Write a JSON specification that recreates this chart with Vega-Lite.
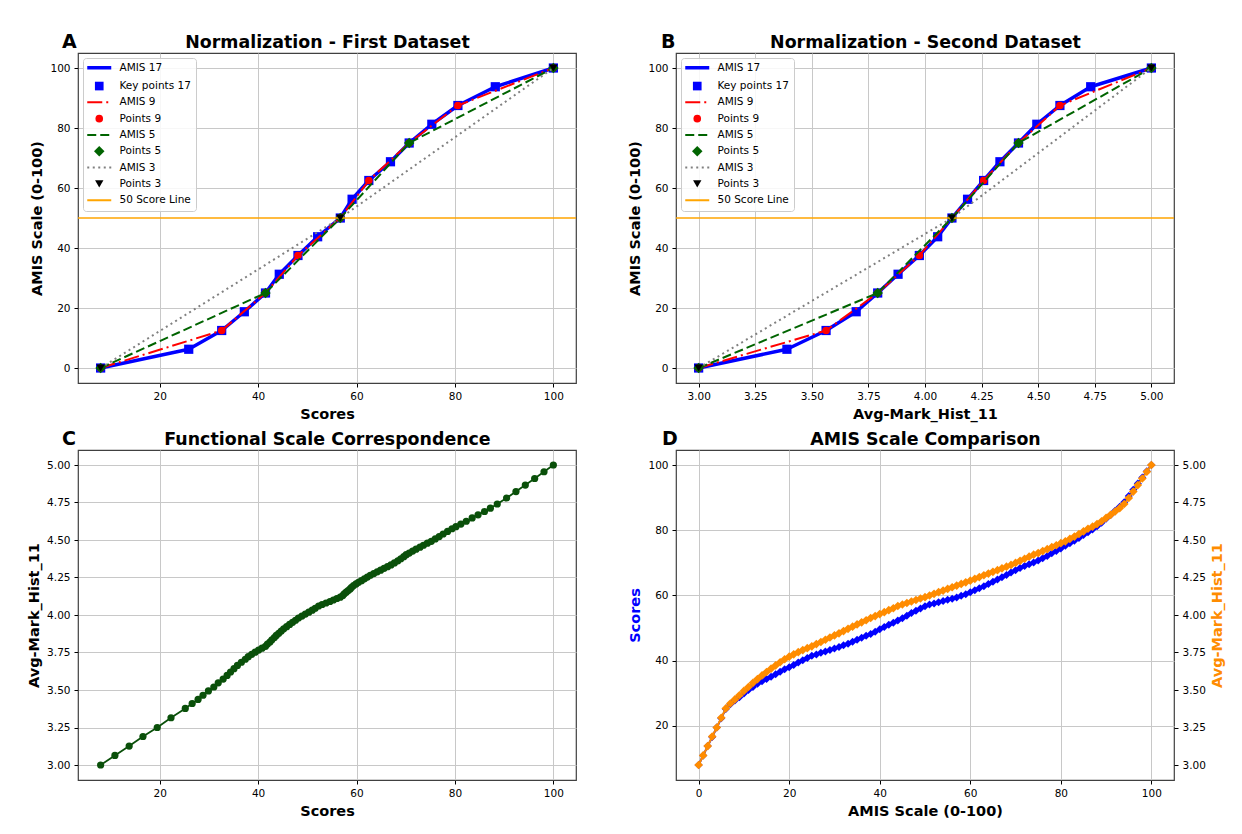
{
  "$schema": "https://vega.github.io/schema/vega-lite/v6.json",
  "background": "white",
  "padding": {"left": 26, "top": 32, "right": 5, "bottom": 5},
  "config": {
    "font": "DejaVu Sans",
    "view": {"stroke": "#404040", "strokeWidth": 1.2},
    "axis": {"domain": false, "tickColor": "#000000", "tickSize": 4, "tickWidth": 1, "labelFontSize": 10.5, "labelColor": "#000000", "labelPadding": 4, "titleFontSize": 14.5, "titleFontWeight": "bold", "titleColor": "#000000", "titlePadding": 5, "gridColor": "#c8c8c8", "gridWidth": 1, "labelOverlap": false, "labelFlush": false},
    "title": {"fontSize": 19, "fontWeight": "bold", "color": "#000000", "anchor": "start", "frame": "group", "offset": -19, "baseline": "alphabetic", "align": "left"}
  },
  "datasets": {
    "ab": [
      {"series": "AMIS 17", "amis": 0, "score": 8.0, "avg": 3.000},
      {"series": "AMIS 17", "amis": 6.25, "score": 25.9, "avg": 3.390},
      {"series": "AMIS 17", "amis": 12.5, "score": 32.6, "avg": 3.563},
      {"series": "AMIS 17", "amis": 18.75, "score": 37.2, "avg": 3.696},
      {"series": "AMIS 17", "amis": 25, "score": 41.5, "avg": 3.791},
      {"series": "AMIS 17", "amis": 31.25, "score": 44.3, "avg": 3.881},
      {"series": "AMIS 17", "amis": 37.5, "score": 48.1, "avg": 3.975},
      {"series": "AMIS 17", "amis": 43.75, "score": 52.1, "avg": 4.056},
      {"series": "AMIS 17", "amis": 50, "score": 56.7, "avg": 4.119},
      {"series": "AMIS 17", "amis": 56.25, "score": 59.1, "avg": 4.188},
      {"series": "AMIS 17", "amis": 62.5, "score": 62.5, "avg": 4.259},
      {"series": "AMIS 17", "amis": 68.75, "score": 66.9, "avg": 4.331},
      {"series": "AMIS 17", "amis": 75, "score": 70.7, "avg": 4.413},
      {"series": "AMIS 17", "amis": 81.25, "score": 75.3, "avg": 4.494},
      {"series": "AMIS 17", "amis": 87.5, "score": 80.6, "avg": 4.596},
      {"series": "AMIS 17", "amis": 93.75, "score": 88.2, "avg": 4.732},
      {"series": "AMIS 17", "amis": 100, "score": 100.0, "avg": 5.000},
      {"series": "Key points 17", "amis": 0, "score": 8.0, "avg": 3.000},
      {"series": "Key points 17", "amis": 6.25, "score": 25.9, "avg": 3.390},
      {"series": "Key points 17", "amis": 12.5, "score": 32.6, "avg": 3.563},
      {"series": "Key points 17", "amis": 18.75, "score": 37.2, "avg": 3.696},
      {"series": "Key points 17", "amis": 25, "score": 41.5, "avg": 3.791},
      {"series": "Key points 17", "amis": 31.25, "score": 44.3, "avg": 3.881},
      {"series": "Key points 17", "amis": 37.5, "score": 48.1, "avg": 3.975},
      {"series": "Key points 17", "amis": 43.75, "score": 52.1, "avg": 4.056},
      {"series": "Key points 17", "amis": 50, "score": 56.7, "avg": 4.119},
      {"series": "Key points 17", "amis": 56.25, "score": 59.1, "avg": 4.188},
      {"series": "Key points 17", "amis": 62.5, "score": 62.5, "avg": 4.259},
      {"series": "Key points 17", "amis": 68.75, "score": 66.9, "avg": 4.331},
      {"series": "Key points 17", "amis": 75, "score": 70.7, "avg": 4.413},
      {"series": "Key points 17", "amis": 81.25, "score": 75.3, "avg": 4.494},
      {"series": "Key points 17", "amis": 87.5, "score": 80.6, "avg": 4.596},
      {"series": "Key points 17", "amis": 93.75, "score": 88.2, "avg": 4.732},
      {"series": "Key points 17", "amis": 100, "score": 100.0, "avg": 5.000},
      {"series": "AMIS 9", "amis": 0, "score": 8.0, "avg": 3.000},
      {"series": "AMIS 9", "amis": 12.5, "score": 32.6, "avg": 3.563},
      {"series": "AMIS 9", "amis": 25, "score": 41.5, "avg": 3.791},
      {"series": "AMIS 9", "amis": 37.5, "score": 48.1, "avg": 3.975},
      {"series": "AMIS 9", "amis": 50, "score": 56.7, "avg": 4.119},
      {"series": "AMIS 9", "amis": 62.5, "score": 62.5, "avg": 4.259},
      {"series": "AMIS 9", "amis": 75, "score": 70.7, "avg": 4.413},
      {"series": "AMIS 9", "amis": 87.5, "score": 80.6, "avg": 4.596},
      {"series": "AMIS 9", "amis": 100, "score": 100.0, "avg": 5.000},
      {"series": "Points 9", "amis": 0, "score": 8.0, "avg": 3.000},
      {"series": "Points 9", "amis": 12.5, "score": 32.6, "avg": 3.563},
      {"series": "Points 9", "amis": 25, "score": 41.5, "avg": 3.791},
      {"series": "Points 9", "amis": 37.5, "score": 48.1, "avg": 3.975},
      {"series": "Points 9", "amis": 50, "score": 56.7, "avg": 4.119},
      {"series": "Points 9", "amis": 62.5, "score": 62.5, "avg": 4.259},
      {"series": "Points 9", "amis": 75, "score": 70.7, "avg": 4.413},
      {"series": "Points 9", "amis": 87.5, "score": 80.6, "avg": 4.596},
      {"series": "Points 9", "amis": 100, "score": 100.0, "avg": 5.000},
      {"series": "AMIS 5", "amis": 0, "score": 8.0, "avg": 3.000},
      {"series": "AMIS 5", "amis": 25, "score": 41.5, "avg": 3.791},
      {"series": "AMIS 5", "amis": 50, "score": 56.7, "avg": 4.119},
      {"series": "AMIS 5", "amis": 75, "score": 70.7, "avg": 4.413},
      {"series": "AMIS 5", "amis": 100, "score": 100.0, "avg": 5.000},
      {"series": "Points 5", "amis": 0, "score": 8.0, "avg": 3.000},
      {"series": "Points 5", "amis": 25, "score": 41.5, "avg": 3.791},
      {"series": "Points 5", "amis": 50, "score": 56.7, "avg": 4.119},
      {"series": "Points 5", "amis": 75, "score": 70.7, "avg": 4.413},
      {"series": "Points 5", "amis": 100, "score": 100.0, "avg": 5.000},
      {"series": "AMIS 3", "amis": 0, "score": 8.0, "avg": 3.000},
      {"series": "AMIS 3", "amis": 50, "score": 56.7, "avg": 4.119},
      {"series": "AMIS 3", "amis": 100, "score": 100.0, "avg": 5.000},
      {"series": "Points 3", "amis": 0, "score": 8.0, "avg": 3.000},
      {"series": "Points 3", "amis": 50, "score": 56.7, "avg": 4.119},
      {"series": "Points 3", "amis": 100, "score": 100.0, "avg": 5.000}
    ],
    "curve": [
      {"amis": 0, "score": 8.0, "avg": 3.000}, {"amis": 1, "score": 10.9, "avg": 3.064}, {"amis": 2, "score": 13.8, "avg": 3.126},
      {"amis": 3, "score": 16.6, "avg": 3.190}, {"amis": 4, "score": 19.5, "avg": 3.250}, {"amis": 5, "score": 22.3, "avg": 3.315},
      {"amis": 6, "score": 25.2, "avg": 3.377}, {"amis": 7, "score": 26.6, "avg": 3.410}, {"amis": 8, "score": 27.8, "avg": 3.437},
      {"amis": 9, "score": 28.8, "avg": 3.465}, {"amis": 10, "score": 29.9, "avg": 3.494}, {"amis": 11, "score": 31.0, "avg": 3.520},
      {"amis": 12, "score": 31.9, "avg": 3.548}, {"amis": 13, "score": 32.9, "avg": 3.573}, {"amis": 14, "score": 33.7, "avg": 3.597},
      {"amis": 15, "score": 34.4, "avg": 3.620}, {"amis": 16, "score": 35.1, "avg": 3.642}, {"amis": 17, "score": 35.8, "avg": 3.664},
      {"amis": 18, "score": 36.6, "avg": 3.685}, {"amis": 19, "score": 37.4, "avg": 3.705}, {"amis": 20, "score": 38.0, "avg": 3.722},
      {"amis": 21, "score": 38.7, "avg": 3.738}, {"amis": 22, "score": 39.4, "avg": 3.752}, {"amis": 23, "score": 40.1, "avg": 3.766},
      {"amis": 24, "score": 40.8, "avg": 3.779}, {"amis": 25, "score": 41.5, "avg": 3.791}, {"amis": 26, "score": 41.9, "avg": 3.806},
      {"amis": 27, "score": 42.4, "avg": 3.820}, {"amis": 28, "score": 42.8, "avg": 3.835}, {"amis": 29, "score": 43.3, "avg": 3.850},
      {"amis": 30, "score": 43.7, "avg": 3.864}, {"amis": 31, "score": 44.2, "avg": 3.878}, {"amis": 32, "score": 44.7, "avg": 3.893},
      {"amis": 33, "score": 45.2, "avg": 3.908}, {"amis": 34, "score": 45.8, "avg": 3.922}, {"amis": 35, "score": 46.4, "avg": 3.937},
      {"amis": 36, "score": 47.0, "avg": 3.951}, {"amis": 37, "score": 47.6, "avg": 3.965}, {"amis": 38, "score": 48.2, "avg": 3.980},
      {"amis": 39, "score": 48.9, "avg": 3.993}, {"amis": 40, "score": 49.6, "avg": 4.006}, {"amis": 41, "score": 50.3, "avg": 4.019},
      {"amis": 42, "score": 51.0, "avg": 4.032}, {"amis": 43, "score": 51.6, "avg": 4.045}, {"amis": 44, "score": 52.3, "avg": 4.060},
      {"amis": 45, "score": 53.0, "avg": 4.070}, {"amis": 46, "score": 53.8, "avg": 4.080}, {"amis": 47, "score": 54.6, "avg": 4.090},
      {"amis": 48, "score": 55.3, "avg": 4.100}, {"amis": 49, "score": 56.0, "avg": 4.110}, {"amis": 50, "score": 56.7, "avg": 4.119},
      {"amis": 51, "score": 57.2, "avg": 4.130}, {"amis": 52, "score": 57.5, "avg": 4.141}, {"amis": 53, "score": 57.9, "avg": 4.152},
      {"amis": 54, "score": 58.3, "avg": 4.163}, {"amis": 55, "score": 58.7, "avg": 4.174}, {"amis": 56, "score": 59.0, "avg": 4.185},
      {"amis": 57, "score": 59.4, "avg": 4.196}, {"amis": 58, "score": 59.9, "avg": 4.207}, {"amis": 59, "score": 60.4, "avg": 4.218},
      {"amis": 60, "score": 61.0, "avg": 4.229}, {"amis": 61, "score": 61.6, "avg": 4.241}, {"amis": 62, "score": 62.2, "avg": 4.253},
      {"amis": 63, "score": 62.8, "avg": 4.265}, {"amis": 64, "score": 63.5, "avg": 4.276}, {"amis": 65, "score": 64.2, "avg": 4.288},
      {"amis": 66, "score": 64.9, "avg": 4.299}, {"amis": 67, "score": 65.6, "avg": 4.311}, {"amis": 68, "score": 66.3, "avg": 4.322},
      {"amis": 69, "score": 67.0, "avg": 4.334}, {"amis": 70, "score": 67.7, "avg": 4.347}, {"amis": 71, "score": 68.4, "avg": 4.361},
      {"amis": 72, "score": 69.0, "avg": 4.375}, {"amis": 73, "score": 69.6, "avg": 4.389}, {"amis": 74, "score": 70.1, "avg": 4.402},
      {"amis": 75, "score": 70.7, "avg": 4.413}, {"amis": 76, "score": 71.4, "avg": 4.426}, {"amis": 77, "score": 72.1, "avg": 4.439},
      {"amis": 78, "score": 72.9, "avg": 4.452}, {"amis": 79, "score": 73.6, "avg": 4.465}, {"amis": 80, "score": 74.4, "avg": 4.479},
      {"amis": 81, "score": 75.2, "avg": 4.491}, {"amis": 82, "score": 76.0, "avg": 4.507}, {"amis": 83, "score": 76.8, "avg": 4.523},
      {"amis": 84, "score": 77.6, "avg": 4.540}, {"amis": 85, "score": 78.5, "avg": 4.557}, {"amis": 86, "score": 79.4, "avg": 4.575},
      {"amis": 87, "score": 80.2, "avg": 4.589}, {"amis": 88, "score": 81.2, "avg": 4.606}, {"amis": 89, "score": 82.3, "avg": 4.625},
      {"amis": 90, "score": 83.5, "avg": 4.647}, {"amis": 91, "score": 84.7, "avg": 4.668}, {"amis": 92, "score": 86.0, "avg": 4.690},
      {"amis": 93, "score": 87.2, "avg": 4.712}, {"amis": 94, "score": 88.6, "avg": 4.740}, {"amis": 95, "score": 90.5, "avg": 4.780},
      {"amis": 96, "score": 92.4, "avg": 4.823}, {"amis": 97, "score": 94.3, "avg": 4.866}, {"amis": 98, "score": 96.2, "avg": 4.910},
      {"amis": 99, "score": 98.1, "avg": 4.955}, {"amis": 100, "score": 100.0, "avg": 5.000}
    ]
  },
  "columns": 2,
  "spacing": {"row": 67, "column": 100},
  "bounds": "flush",
  "resolve": {"scale": {"color": "independent"}, "legend": {"color": "independent"}},
  "concat": [
    {
      "width": 498, "height": 330,
      "title": {"text": "A", "dx": -16},
      "data": {"name": "ab"},
      "resolve": {"axis": {"x": "independent"}},
      "layer": [
        {"layer": [
          {"transform": [{"filter": "datum.series === 'AMIS 17'"}],
           "mark": {"type": "line", "strokeWidth": 3.5, "strokeJoin": "round"},
           "encoding": {
             "x": {"field": "score", "type": "quantitative", "scale": {"domain": [3.4, 104.6], "nice": false, "zero": false}, "axis": {"title": "Scores", "values": [20, 40, 60, 80, 100], "titlePadding": 5.5}},
             "y": {"field": "amis", "type": "quantitative", "scale": {"domain": [-5, 105], "nice": false, "zero": false}, "axis": {"title": "AMIS Scale (0-100)", "values": [0, 20, 40, 60, 80, 100]}},
             "color": {"field": "series", "type": "nominal",
               "scale": {"domain": ["AMIS 17", "Key points 17", "AMIS 9", "Points 9", "AMIS 5", "Points 5", "AMIS 3", "Points 3", "50 Score Line"], "range": ["#0000ff", "#0000ff", "#ff0000", "#ff0000", "#006400", "#006400", "#808080", "#000000", "#ffa500"]},
               "legend": {"title": null, "orient": "top-left", "offset": 5, "padding": 4.5, "rowPadding": 5.3, "labelFontSize": 10.5, "labelColor": "#000000", "labelLimit": 300, "symbolSize": 64, "symbolOffset": 6.5, "labelOffset": 15, "fillColor": "rgba(255,255,255,0.85)", "strokeColor": "#cccccc", "cornerRadius": 3,
                 "encode": {"symbols": {"update": {
                   "shape": {"signal": "datum.value === 'Key points 17' ? 'square' : datum.value === 'Points 9' ? 'circle' : datum.value === 'Points 5' ? 'diamond' : datum.value === 'Points 3' ? 'triangle-down' : 'stroke'"},
                   "size": {"signal": "datum.value === 'Key points 17' ? 75 : datum.value === 'Points 9' ? 58 : datum.value === 'Points 5' ? 110 : datum.value === 'Points 3' ? 70 : 576"},
                   "fill": {"signal": "indexof(['Key points 17','Points 9','Points 5','Points 3'], datum.value) >= 0 ? ((datum.value === 'Key points 17') ? '#0000ff' : (datum.value === 'Points 9') ? '#ff0000' : (datum.value === 'Points 5') ? '#006400' : '#000000') : 'transparent'"},
                   "stroke": {"signal": "(datum.value === 'AMIS 17' || datum.value === 'Key points 17') ? '#0000ff' : (datum.value === 'AMIS 9' || datum.value === 'Points 9') ? '#ff0000' : (datum.value === 'AMIS 5' || datum.value === 'Points 5') ? '#006400' : datum.value === 'AMIS 3' ? '#808080' : datum.value === 'Points 3' ? '#000000' : '#ffa500'"},
                   "strokeWidth": {"signal": "datum.value === 'AMIS 17' ? 3.5 : indexof(['Key points 17','Points 9','Points 5','Points 3'], datum.value) >= 0 ? 0 : 2"},
                   "strokeDash": {"signal": "datum.value === 'AMIS 9' ? [15,4,2,4] : datum.value === 'AMIS 5' ? [9,4] : datum.value === 'AMIS 3' ? [2,3.5] : [1,0]"},
                   "opacity": {"value": 1}
                 }}}}
             }
           }},
          {"transform": [{"filter": "datum.series === 'Key points 17'"}],
           "mark": {"type": "point", "shape": "square", "filled": true, "size": 85, "opacity": 1},
           "encoding": {"x": {"field": "score", "type": "quantitative"}, "y": {"field": "amis", "type": "quantitative"}, "color": {"field": "series", "type": "nominal"}}},
          {"transform": [{"filter": "datum.series === 'AMIS 9'"}],
           "mark": {"type": "line", "strokeWidth": 2, "strokeDash": [15, 4, 2, 4]},
           "encoding": {"x": {"field": "score", "type": "quantitative"}, "y": {"field": "amis", "type": "quantitative"}, "color": {"field": "series", "type": "nominal"}}},
          {"transform": [{"filter": "datum.series === 'Points 9'"}],
           "mark": {"type": "point", "shape": "circle", "filled": true, "size": 58, "opacity": 1},
           "encoding": {"x": {"field": "score", "type": "quantitative"}, "y": {"field": "amis", "type": "quantitative"}, "color": {"field": "series", "type": "nominal"}}},
          {"transform": [{"filter": "datum.series === 'AMIS 5'"}],
           "mark": {"type": "line", "strokeWidth": 2, "strokeDash": [9, 4]},
           "encoding": {"x": {"field": "score", "type": "quantitative"}, "y": {"field": "amis", "type": "quantitative"}, "color": {"field": "series", "type": "nominal"}}},
          {"transform": [{"filter": "datum.series === 'Points 5'"}],
           "mark": {"type": "point", "shape": "diamond", "filled": true, "size": 110, "opacity": 1},
           "encoding": {"x": {"field": "score", "type": "quantitative"}, "y": {"field": "amis", "type": "quantitative"}, "color": {"field": "series", "type": "nominal"}}},
          {"transform": [{"filter": "datum.series === 'AMIS 3'"}],
           "mark": {"type": "line", "strokeWidth": 2, "strokeDash": [2, 3.5]},
           "encoding": {"x": {"field": "score", "type": "quantitative"}, "y": {"field": "amis", "type": "quantitative"}, "color": {"field": "series", "type": "nominal"}}},
          {"data": {"values": [{"series": "50 Score Line", "amis": 50}]},
           "mark": {"type": "rule", "strokeWidth": 1.5},
           "encoding": {"y": {"field": "amis", "type": "quantitative"}, "color": {"field": "series", "type": "nominal"}}}
        ]},
        {"transform": [{"filter": "datum.series === 'Points 3'"}],
         "mark": {"type": "point", "shape": "triangle-down", "filled": true, "size": 70, "opacity": 1},
         "encoding": {
           "x": {"field": "score", "type": "quantitative", "axis": {"orient": "top", "title": "Normalization - First Dataset", "labels": false, "ticks": false, "grid": false, "domain": false, "titleY": -6, "titleFontSize": 17.4, "titleBaseline": "alphabetic", "titlePadding": 0}},
           "y": {"field": "amis", "type": "quantitative"},
           "color": {"field": "series", "type": "nominal"}
         }}
      ]
    },
    {
      "width": 498, "height": 330,
      "title": {"text": "B", "dx": -15},
      "data": {"name": "ab"},
      "resolve": {"axis": {"x": "independent"}},
      "layer": [
        {"layer": [
          {"transform": [{"filter": "datum.series === 'AMIS 17'"}],
           "mark": {"type": "line", "strokeWidth": 3.5, "strokeJoin": "round"},
           "encoding": {
             "x": {"field": "avg", "type": "quantitative", "scale": {"domain": [2.9, 5.1], "nice": false, "zero": false}, "axis": {"title": "Avg-Mark_Hist_11", "values": [3, 3.25, 3.5, 3.75, 4, 4.25, 4.5, 4.75, 5], "format": ".2f", "titlePadding": 5.5}},
             "y": {"field": "amis", "type": "quantitative", "scale": {"domain": [-5, 105], "nice": false, "zero": false}, "axis": {"title": "AMIS Scale (0-100)", "values": [0, 20, 40, 60, 80, 100]}},
             "color": {"field": "series", "type": "nominal",
               "scale": {"domain": ["AMIS 17", "Key points 17", "AMIS 9", "Points 9", "AMIS 5", "Points 5", "AMIS 3", "Points 3", "50 Score Line"], "range": ["#0000ff", "#0000ff", "#ff0000", "#ff0000", "#006400", "#006400", "#808080", "#000000", "#ffa500"]},
               "legend": {"title": null, "orient": "top-left", "offset": 5, "padding": 4.5, "rowPadding": 5.3, "labelFontSize": 10.5, "labelColor": "#000000", "labelLimit": 300, "symbolSize": 64, "symbolOffset": 6.5, "labelOffset": 15, "fillColor": "rgba(255,255,255,0.85)", "strokeColor": "#cccccc", "cornerRadius": 3,
                 "encode": {"symbols": {"update": {
                   "shape": {"signal": "datum.value === 'Key points 17' ? 'square' : datum.value === 'Points 9' ? 'circle' : datum.value === 'Points 5' ? 'diamond' : datum.value === 'Points 3' ? 'triangle-down' : 'stroke'"},
                   "size": {"signal": "datum.value === 'Key points 17' ? 75 : datum.value === 'Points 9' ? 58 : datum.value === 'Points 5' ? 110 : datum.value === 'Points 3' ? 70 : 576"},
                   "fill": {"signal": "indexof(['Key points 17','Points 9','Points 5','Points 3'], datum.value) >= 0 ? ((datum.value === 'Key points 17') ? '#0000ff' : (datum.value === 'Points 9') ? '#ff0000' : (datum.value === 'Points 5') ? '#006400' : '#000000') : 'transparent'"},
                   "stroke": {"signal": "(datum.value === 'AMIS 17' || datum.value === 'Key points 17') ? '#0000ff' : (datum.value === 'AMIS 9' || datum.value === 'Points 9') ? '#ff0000' : (datum.value === 'AMIS 5' || datum.value === 'Points 5') ? '#006400' : datum.value === 'AMIS 3' ? '#808080' : datum.value === 'Points 3' ? '#000000' : '#ffa500'"},
                   "strokeWidth": {"signal": "datum.value === 'AMIS 17' ? 3.5 : indexof(['Key points 17','Points 9','Points 5','Points 3'], datum.value) >= 0 ? 0 : 2"},
                   "strokeDash": {"signal": "datum.value === 'AMIS 9' ? [15,4,2,4] : datum.value === 'AMIS 5' ? [9,4] : datum.value === 'AMIS 3' ? [2,3.5] : [1,0]"},
                   "opacity": {"value": 1}
                 }}}}
             }
           }},
          {"transform": [{"filter": "datum.series === 'Key points 17'"}],
           "mark": {"type": "point", "shape": "square", "filled": true, "size": 85, "opacity": 1},
           "encoding": {"x": {"field": "avg", "type": "quantitative"}, "y": {"field": "amis", "type": "quantitative"}, "color": {"field": "series", "type": "nominal"}}},
          {"transform": [{"filter": "datum.series === 'AMIS 9'"}],
           "mark": {"type": "line", "strokeWidth": 2, "strokeDash": [15, 4, 2, 4]},
           "encoding": {"x": {"field": "avg", "type": "quantitative"}, "y": {"field": "amis", "type": "quantitative"}, "color": {"field": "series", "type": "nominal"}}},
          {"transform": [{"filter": "datum.series === 'Points 9'"}],
           "mark": {"type": "point", "shape": "circle", "filled": true, "size": 58, "opacity": 1},
           "encoding": {"x": {"field": "avg", "type": "quantitative"}, "y": {"field": "amis", "type": "quantitative"}, "color": {"field": "series", "type": "nominal"}}},
          {"transform": [{"filter": "datum.series === 'AMIS 5'"}],
           "mark": {"type": "line", "strokeWidth": 2, "strokeDash": [9, 4]},
           "encoding": {"x": {"field": "avg", "type": "quantitative"}, "y": {"field": "amis", "type": "quantitative"}, "color": {"field": "series", "type": "nominal"}}},
          {"transform": [{"filter": "datum.series === 'Points 5'"}],
           "mark": {"type": "point", "shape": "diamond", "filled": true, "size": 110, "opacity": 1},
           "encoding": {"x": {"field": "avg", "type": "quantitative"}, "y": {"field": "amis", "type": "quantitative"}, "color": {"field": "series", "type": "nominal"}}},
          {"transform": [{"filter": "datum.series === 'AMIS 3'"}],
           "mark": {"type": "line", "strokeWidth": 2, "strokeDash": [2, 3.5]},
           "encoding": {"x": {"field": "avg", "type": "quantitative"}, "y": {"field": "amis", "type": "quantitative"}, "color": {"field": "series", "type": "nominal"}}},
          {"data": {"values": [{"series": "50 Score Line", "amis": 50}]},
           "mark": {"type": "rule", "strokeWidth": 1.5},
           "encoding": {"y": {"field": "amis", "type": "quantitative"}, "color": {"field": "series", "type": "nominal"}}}
        ]},
        {"transform": [{"filter": "datum.series === 'Points 3'"}],
         "mark": {"type": "point", "shape": "triangle-down", "filled": true, "size": 70, "opacity": 1},
         "encoding": {
           "x": {"field": "avg", "type": "quantitative", "axis": {"orient": "top", "title": "Normalization - Second Dataset", "labels": false, "ticks": false, "grid": false, "domain": false, "titleY": -6, "titleFontSize": 17.4, "titleBaseline": "alphabetic", "titlePadding": 0}},
           "y": {"field": "amis", "type": "quantitative"},
           "color": {"field": "series", "type": "nominal"}
         }}
      ]
    },
    {
      "width": 498, "height": 330,
      "title": {"text": "C", "dx": -16},
      "data": {"name": "curve"},
      "resolve": {"axis": {"x": "independent"}},
      "layer": [
        {"mark": {"type": "line", "color": "#0a500a", "strokeWidth": 1.8},
         "encoding": {
           "x": {"field": "score", "type": "quantitative", "scale": {"domain": [3.4, 104.6], "nice": false, "zero": false}, "axis": {"title": "Scores", "values": [20, 40, 60, 80, 100], "titlePadding": 5.5}},
           "y": {"field": "avg", "type": "quantitative", "scale": {"domain": [2.9, 5.1], "nice": false, "zero": false}, "axis": {"title": "Avg-Mark_Hist_11", "values": [3, 3.25, 3.5, 3.75, 4, 4.25, 4.5, 4.75, 5], "format": ".2f"}}
         }},
        {"mark": {"type": "point", "shape": "circle", "filled": true, "size": 52, "opacity": 1, "color": "#0a500a"},
         "encoding": {
           "x": {"field": "score", "type": "quantitative", "axis": {"orient": "top", "title": "Functional Scale Correspondence", "labels": false, "ticks": false, "grid": false, "domain": false, "titleY": -6, "titleFontSize": 17.4, "titleBaseline": "alphabetic", "titlePadding": 0}},
           "y": {"field": "avg", "type": "quantitative"}
         }}
      ]
    },
    {
      "width": 498, "height": 330,
      "title": {"text": "D", "dx": -14},
      "data": {"name": "curve"},
      "resolve": {"scale": {"y": "independent"}, "axis": {"x": "independent"}},
      "layer": [
        {"layer": [
          {"mark": {"type": "line", "color": "#0000ff", "strokeWidth": 2},
           "encoding": {
             "x": {"field": "amis", "type": "quantitative", "scale": {"domain": [-5, 105], "nice": false, "zero": false}, "axis": {"title": "AMIS Scale (0-100)", "values": [0, 20, 40, 60, 80, 100], "titlePadding": 5.5}},
             "y": {"field": "score", "type": "quantitative", "scale": {"domain": [3.4, 104.6], "nice": false, "zero": false}, "axis": {"title": "Scores", "titleColor": "#0000ff", "values": [20, 40, 60, 80, 100]}}
           }},
          {"mark": {"type": "point", "shape": "diamond", "filled": true, "size": 64, "opacity": 1, "color": "#0000ff"},
           "encoding": {"x": {"field": "amis", "type": "quantitative"}, "y": {"field": "score", "type": "quantitative"}}}
        ]},
        {"layer": [
          {"mark": {"type": "line", "color": "#ff8c00", "strokeWidth": 2},
           "encoding": {
             "x": {"field": "amis", "type": "quantitative", "axis": {"orient": "top", "title": "AMIS Scale Comparison", "labels": false, "ticks": false, "grid": false, "domain": false, "titleY": -6, "titleFontSize": 17.4, "titleBaseline": "alphabetic", "titlePadding": 0}},
             "y": {"field": "avg", "type": "quantitative", "scale": {"domain": [2.9, 5.1], "nice": false, "zero": false}, "axis": {"orient": "right", "title": "Avg-Mark_Hist_11", "titleColor": "#ff8c00", "titleAngle": 270, "titleBaseline": "top", "grid": false, "values": [3, 3.25, 3.5, 3.75, 4, 4.25, 4.5, 4.75, 5], "format": ".2f"}}
           }},
          {"mark": {"type": "point", "shape": "diamond", "filled": true, "size": 76, "opacity": 1, "color": "#ff8c00"},
           "encoding": {"x": {"field": "amis", "type": "quantitative"}, "y": {"field": "avg", "type": "quantitative"}}}
        ]}
      ]
    }
  ]
}
